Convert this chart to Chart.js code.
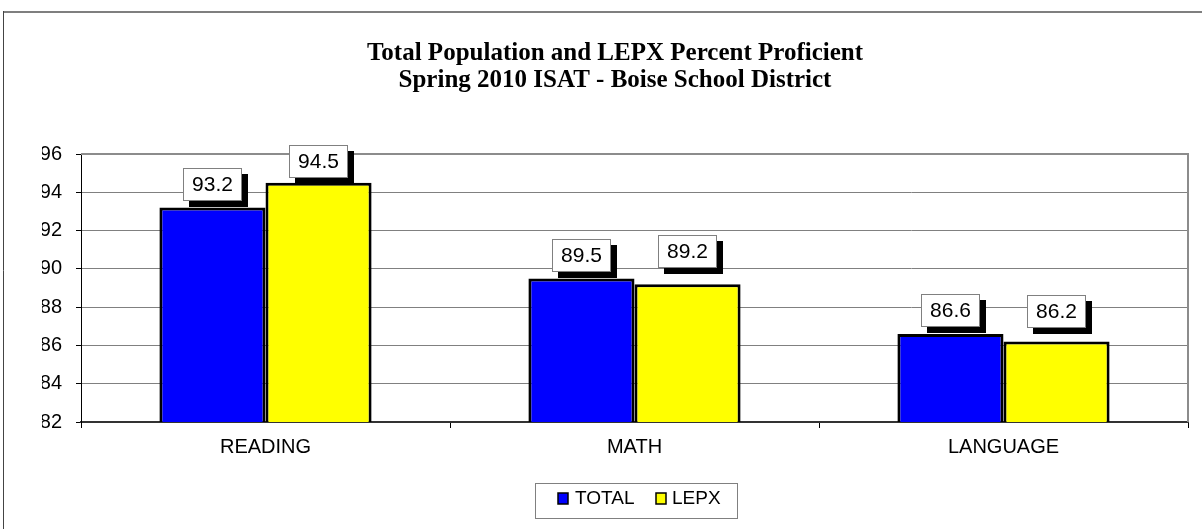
<!DOCTYPE html>
<html>
<head>
<meta charset="utf-8">
<script src="https://cdn.jsdelivr.net/npm/chart.js@4.4.0/dist/chart.umd.min.js"></script>
<style>
  html, body { margin: 0; padding: 0; background: #ffffff; }
  #wrap { width: 1202px; height: 529px; }
</style>
</head>
<body>
<div id="wrap"><canvas id="c" width="1202" height="529"></canvas></div>
<script>
// ---- data ----
const titleLines = ["Total Population and LEPX Percent Proficient", "Spring 2010 ISAT - Boise School District"];
const categories = ["READING", "MATH", "LANGUAGE"];
const seriesNames = ["TOTAL", "LEPX"];
const totalValues = [93.2, 89.5, 86.6];
const lepxValues = [94.5, 89.2, 86.2];
const yTicks = [82, 84, 86, 88, 90, 92, 94, 96];

// ---- styling ----
const seriesColors = ["#0000FF", "#FFFF00"];
const labelGap = [[7, 6, 7], [5, 16, 14]];   // px between label box bottom and bar top
const FONT = "'Liberation Sans', Arial, Helvetica, sans-serif";

const framePlugin = {
  id: 'frame',
  beforeDraw(chart) {
    const ctx = chart.ctx;
    ctx.save();
    ctx.fillStyle = '#ffffff';
    ctx.fillRect(0, 0, chart.width, chart.height);
    ctx.strokeStyle = '#7f7f7f';
    ctx.lineWidth = 2;
    ctx.beginPath();
    ctx.moveTo(3, 12);
    ctx.lineTo(chart.width + 5, 12);
    ctx.stroke();
    ctx.strokeStyle = '#444444';
    ctx.lineWidth = 1;
    ctx.beginPath();
    ctx.moveTo(3.5, 11);
    ctx.lineTo(3.5, chart.height + 5);
    ctx.stroke();
    ctx.restore();
  },
  beforeDatasetsDraw(chart) {
    const ctx = chart.ctx, a = chart.chartArea;
    ctx.save();
    ctx.strokeStyle = '#8c8c8c';
    ctx.lineWidth = 2;
    ctx.beginPath();
    ctx.moveTo(a.left, a.top);
    ctx.lineTo(a.right, a.top);
    ctx.lineTo(a.right, a.bottom);
    ctx.stroke();
    ctx.restore();
  },
  afterDraw(chart) {
    const ctx = chart.ctx;
    ctx.save();
    // title
    ctx.fillStyle = '#000000';
    ctx.font = "bold 25px 'Liberation Serif', 'Times New Roman', serif";
    ctx.textAlign = 'center';
    ctx.textBaseline = 'alphabetic';
    ctx.fillText(titleLines[0], 615, 60);
    ctx.fillText(titleLines[1], 615, 87);
    // legend
    const lx = 535, ly = 483, lw = 202, lh = 35;
    ctx.strokeStyle = '#808080';
    ctx.lineWidth = 1;
    ctx.strokeRect(lx + 0.5, ly + 0.5, lw, lh);
    ctx.font = "19px " + FONT;
    ctx.textAlign = 'left';
    ctx.textBaseline = 'middle';
    const items = [[558, 575], [656, 672]];
    chart.data.datasets.forEach((ds, i) => {
      const [sx, tx] = items[i];
      ctx.fillStyle = ds.backgroundColor;
      ctx.fillRect(sx, 493, 10, 11);
      ctx.strokeStyle = '#000000';
      ctx.lineWidth = 1.5;
      ctx.strokeRect(sx, 493, 10, 11);
      ctx.fillStyle = '#000000';
      ctx.fillText(ds.label, tx, 499);
    });
    ctx.restore();
  }
};

const labelPlugin = {
  id: 'boxLabels',
  afterDatasetsDraw(chart) {
    const ctx = chart.ctx;
    ctx.save();
    ctx.font = "21px " + FONT;
    ctx.textAlign = 'center';
    ctx.textBaseline = 'middle';
    chart.data.datasets.forEach((ds, di) => {
      const meta = chart.getDatasetMeta(di);
      meta.data.forEach((bar, i) => {
        const w = 59, h = 33, sh = 6;
        const cx = bar.x;
        const bottom = bar.y - labelGap[di][i];
        const x0 = Math.round(cx - w / 2), y0 = Math.round(bottom - h);
        ctx.fillStyle = '#000000';
        ctx.fillRect(x0 + sh, y0 + sh, w, h);
        ctx.fillStyle = '#ffffff';
        ctx.fillRect(x0, y0, w, h);
        ctx.strokeStyle = '#808080';
        ctx.lineWidth = 1;
        ctx.strokeRect(x0 + 0.5, y0 + 0.5, w - 1, h - 1);
        ctx.fillStyle = '#000000';
        ctx.fillText(ds.data[i].toFixed(1), cx, y0 + h / 2 + 1);
      });
    });
    ctx.restore();
  }
};

new Chart(document.getElementById('c'), {
  type: 'bar',
  data: {
    labels: categories,
    datasets: [
      { label: seriesNames[0], data: totalValues, backgroundColor: seriesColors[0] },
      { label: seriesNames[1], data: lepxValues, backgroundColor: seriesColors[1] }
    ]
  },
  options: {
    responsive: false,
    animation: false,
    devicePixelRatio: 1,
    layout: { padding: { left: 42, right: 14, top: 154, bottom: 0 } },
    datasets: {
      bar: {
        borderColor: '#000000',
        borderWidth: 3,
        borderSkipped: false,
        barPercentage: 1.0,
        categoryPercentage: 0.575
      }
    },
    plugins: {
      legend: { display: false },
      title: { display: false },
      tooltip: { enabled: false }
    },
    scales: {
      x: {
        grid: { display: true, drawOnChartArea: false, drawTicks: true, tickLength: 6, color: '#000000', offset: true },
        border: { display: true, color: '#333333', width: 2 },
        ticks: { color: '#000000', font: { size: 20, family: FONT }, padding: 7, maxRotation: 0 },
        afterFit(scale) { scale.height = 107; }
      },
      y: {
        min: yTicks[0],
        max: yTicks[yTicks.length - 1],
        afterBuildTicks(scale) { scale.ticks = yTicks.map(v => ({ value: v })); },
        grid: { color: '#808080', lineWidth: 1, drawTicks: true, tickLength: 5, tickColor: '#000000' },
        border: { display: true, color: '#000000', width: 1 },
        ticks: { color: '#000000', font: { size: 20, family: FONT }, padding: 14 },
        afterFit(scale) { scale.width = 39; }
      }
    }
  },
  plugins: [framePlugin, labelPlugin]
});
</script>
</body>
</html>
